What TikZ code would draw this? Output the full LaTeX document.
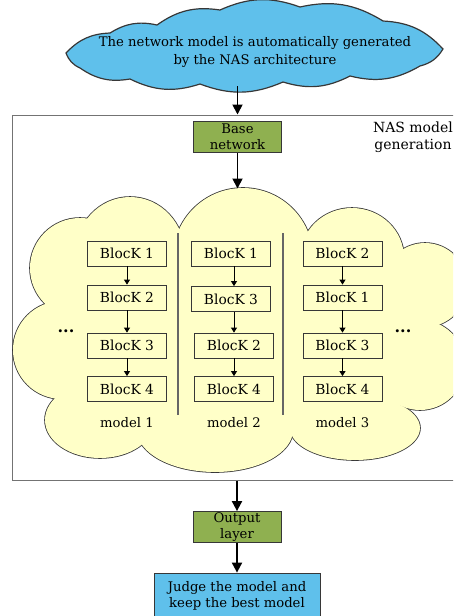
\documentclass[tikz,border=0pt]{standalone}
\usepackage{fontspec}
\setmainfont{DejaVu Serif}
\usepackage{tikz}
\usetikzlibrary{arrows.meta, positioning}
\definecolor{myblue}{RGB}{95, 192, 235}
\definecolor{mygreen}{RGB}{143, 176, 80}
\definecolor{myyellow}{RGB}{255, 255, 200}
\definecolor{myedge}{RGB}{55, 55, 55}
\newcommand{\poolshapes}[1]{%
    #1 (243,258) circle[radius=70];
    #1 (130,255) ellipse[x radius=55, y radius=58];
    #1 (352,258) ellipse[x radius=52, y radius=50];
    #1 (425,285) circle[radius=42];
    #1 (420,365) circle[radius=45];
    #1 (355,428) ellipse[x radius=65, y radius=32];
    #1 (215,430) ellipse[x radius=78, y radius=42];
    #1 (100,420) ellipse[x radius=55, y radius=38];
    #1 (62,350) circle[radius=49];
    #1 (80,268) circle[radius=50];}

\begin{document}
\begin{tikzpicture}[x=1pt, y=-1pt, font=\fontsize{13.2}{16}\selectfont,
    bigarrow/.style={line width=1.8pt, -{Triangle[length=10pt, width=10pt]}},
    smallarrow/.style={line width=0.8pt, -{Triangle[length=5pt, width=6pt]}},
    blockbox/.style={rectangle, draw=myedge, thick, fill=myyellow, minimum width=79pt, minimum height=25pt, inner sep=0pt, font=\fontsize{13.8}{16}\selectfont},
    layerbox/.style={rectangle, draw=myedge, thick, fill=mygreen, minimum width=88pt, minimum height=31pt, inner sep=0pt, align=center},
    dots/.style={font=\fontsize{16}{16}\selectfont\bfseries, inner sep=0pt},
    puff/.style={bend left=22}]
    \useasboundingbox (0,0) rectangle (453,616);
    \clip (0,0) rectangle (453,616);

    % NAS
    \draw[draw=myedge, line width=1.2pt, fill=myblue] (66,53) to[puff] (110,33) to[puff] (157,25)
        to[puff] (220,10) to[puff] (300,7) to[puff] (383,21) to[puff] (443,49)
        to[puff] (420,66) to[puff] (350,76) to[puff] (283,82) to[puff] (200,84)
        to[puff] (130,79) to[puff] (80,68) to[puff] cycle;
    \node[align=center, minimum height=68pt, inner sep=0pt, font=\fontsize{13.2}{18}\selectfont] (goal) at (255,52) {The network model is automatically generated\\by the NAS architecture};

    % model generation
    \node[draw=black!55, line width=1pt, minimum width=448pt, minimum height=365pt, inner sep=0pt] (frame) at (236,297.5) {};
    \node[align=center, font=\fontsize{14}{17}\selectfont] (naslabel) at (413,137) {NAS model\\generation};
    \node[layerbox] (base) at (237.5,137) {Base\\network};

    \poolshapes{\draw[draw=myedge, line width=1.6pt]}
    \poolshapes{\fill[myyellow]}
    \fill[myyellow] (55,250) rectangle (400,428);
    \fill[myyellow] (390,320) circle[radius=45];
    \coordinate (pooltop) at (237.5,188.5);

    \draw[line width=1.2pt, black!60] (178,233) -- (178,415);
    \draw[line width=1.2pt, black!60] (283,233) -- (283,415);

    % model 1
    \node[blockbox] (m1b1) at (127,253.5) {BlocK 1};
    \node[blockbox] (m1b2) at (127,297.5) {BlocK 2};
    \node[blockbox] (m1b3) at (127,345.5) {BlocK 3};
    \node[blockbox] (m1b4) at (127,389) {BlocK 4};
    \node[below=12pt of m1b4] (m1lab) {model 1};
    \draw[smallarrow] (m1b1) -- (m1b2);
    \draw[smallarrow] (m1b2) -- (m1b3);
    \draw[smallarrow] (m1b3) -- (m1b4);

    % model 2
    \node[blockbox] (m2b1) at (231,253.5) {BlocK 1};
    \node[blockbox] (m2b2) at (231,299) {BlocK 3};
    \node[blockbox] (m2b3) at (234,345.5) {BlocK 2};
    \node[blockbox] (m2b4) at (234,389) {BlocK 4};
    \node[below=12pt of m2b4] (m2lab) {model 2};
    \draw[smallarrow] (m2b1.south -| m2b3) -- (m2b2.north -| m2b3);
    \draw[smallarrow] (m2b2.south -| m2b3) -- (m2b3);
    \draw[smallarrow] (m2b3) -- (m2b4);

    % model 3
    \node[blockbox] (m3b1) at (342.5,253.5) {BlocK 2};
    \node[blockbox] (m3b2) at (342.5,297.5) {BlocK 1};
    \node[blockbox] (m3b3) at (342.5,345.5) {BlocK 3};
    \node[blockbox] (m3b4) at (342.5,389) {BlocK 4};
    \node[below=12pt of m3b4] (m3lab) {model 3};
    \draw[smallarrow] (m3b1) -- (m3b2);
    \draw[smallarrow] (m3b2) -- (m3b3);
    \draw[smallarrow] (m3b3) -- (m3b4);

    \node[dots] (dotsl) at (66,331) {...};
    \node[dots] (dotsr) at (403,331) {...};

    % output
    \node[layerbox] (output) at (237,527) {Output\\layer};
    \node[rectangle, draw=myedge, thick, fill=myblue, minimum width=166pt, minimum height=46pt, inner sep=0pt, align=center] (judge) at (237,596) {Judge the model and\\keep the best model};

    \draw[bigarrow] (base |- goal.south) -- (base |- frame.north);
    \draw[bigarrow] (base) -- (pooltop);
    \draw[bigarrow] (frame.south -| output) -- (output);
    \draw[bigarrow] (output) -- (judge);
\end{tikzpicture}
\end{document}
